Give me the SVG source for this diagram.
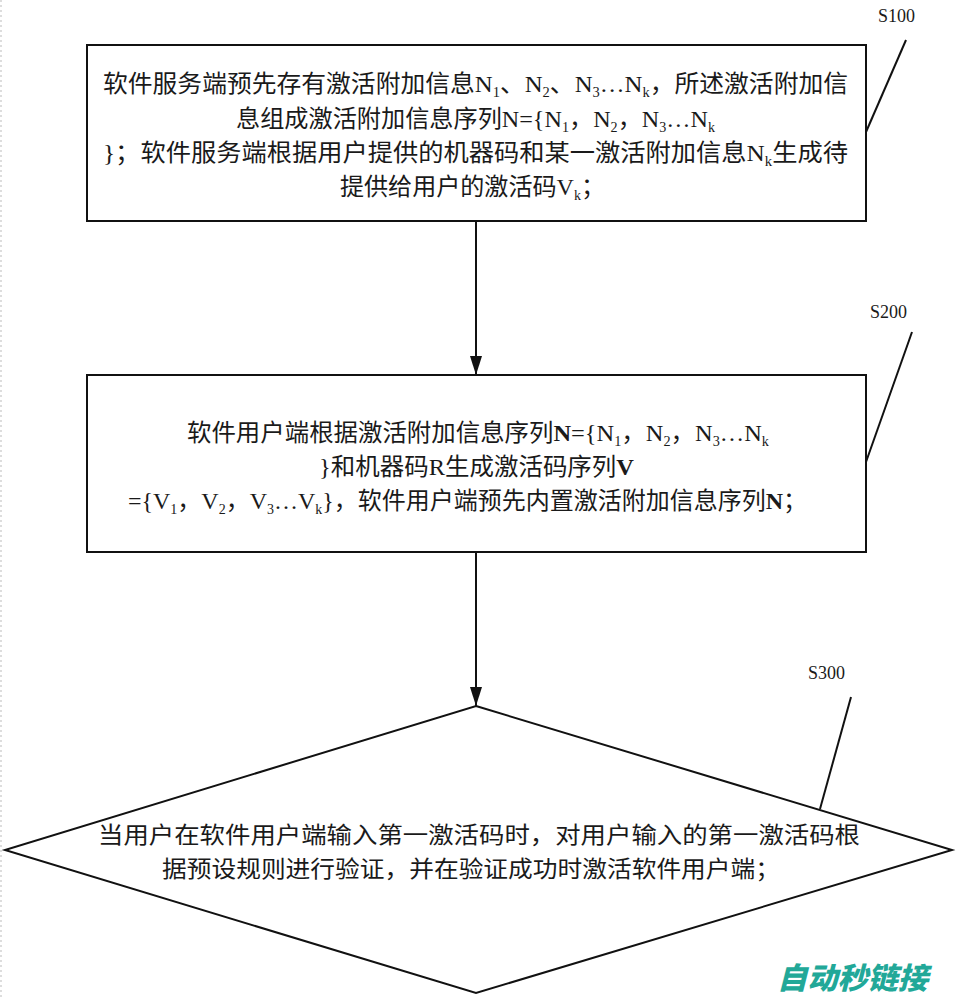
<svg xmlns="http://www.w3.org/2000/svg" width="956" height="1000" viewBox="0 0 956 1000">
<defs>
<style>
.cn{font-family:"Noto Sans CJK SC","Noto Sans CJK JP",sans-serif;font-size:24px;fill:#1a1a1a}
.dm{font-size:23px}
.lt{font-family:"Liberation Serif",serif}
.b{font-weight:bold}
.sub{font-family:"Liberation Serif",serif;font-size:14px}
.lbl{font-family:"Liberation Serif",serif;font-size:18px;fill:#1a1a1a}
.shape{fill:#fff;stroke:#111;stroke-width:2}
.conn{stroke:#111;stroke-width:2;fill:none}
.lead{stroke:#111;stroke-width:2}
.wm{font-family:"Noto Sans CJK SC",sans-serif;font-size:30px;font-weight:900;font-style:italic;fill:#22a898}
</style>
<marker id="arr" markerUnits="userSpaceOnUse" markerWidth="20" markerHeight="12" refX="19" refY="6" orient="auto">
<path d="M0,0 L19,6 L0,12 Z" fill="#111"/>
</marker>
</defs>
<rect x="0" y="0" width="956" height="1000" fill="#fff"/>
<line x1="1" y1="0" x2="1" y2="1000" stroke="#bbb" stroke-width="1" stroke-dasharray="2,3"/>

<g id="connectors">
<line class="conn" x1="476" y1="221" x2="476" y2="375" marker-end="url(#arr)"/>
<line class="conn" x1="476" y1="552" x2="476" y2="706" marker-end="url(#arr)"/>
<line class="lead" x1="906" y1="40" x2="866" y2="132"/>
<line class="lead" x1="912" y1="332" x2="866" y2="462"/>
<line class="lead" x1="851" y1="697" x2="820" y2="809"/>
</g>

<g id="S100">
<rect class="shape" x="87" y="45" width="779" height="176"/>
<text class="cn" x="103" y="92" textLength="745" lengthAdjust="spacingAndGlyphs">软件服务端预先存有激活附加信息<tspan class="lt">N</tspan><tspan class="sub" dy="5">1</tspan><tspan dy="-5">、</tspan><tspan class="lt">N</tspan><tspan class="sub" dy="5">2</tspan><tspan dy="-5">、</tspan><tspan class="lt">N</tspan><tspan class="sub" dy="5">3</tspan><tspan class="lt" dy="-5">…N</tspan><tspan class="sub" dy="5">k</tspan><tspan dy="-5">，所述激活附加信</tspan></text>
<text class="cn" x="236" y="127" textLength="479" lengthAdjust="spacingAndGlyphs">息组成激活附加信息序列<tspan class="lt">N={N</tspan><tspan class="sub" dy="5">1</tspan><tspan dy="-5">，</tspan><tspan class="lt">N</tspan><tspan class="sub" dy="5">2</tspan><tspan dy="-5">，</tspan><tspan class="lt">N</tspan><tspan class="sub" dy="5">3</tspan><tspan class="lt" dy="-5">…N</tspan><tspan class="sub" dy="5">k</tspan></text>
<text class="cn" x="103" y="161" textLength="745" lengthAdjust="spacingAndGlyphs"><tspan class="lt">}</tspan>；软件服务端根据用户提供的机器码和某一激活附加信息<tspan class="lt">N</tspan><tspan class="sub" dy="5">k</tspan><tspan dy="-5">生成待</tspan></text>
<text class="cn" x="340" y="195" textLength="265" lengthAdjust="spacingAndGlyphs">提供给用户的激活码<tspan class="lt">V</tspan><tspan class="sub" dy="5">k</tspan><tspan dy="-5">；</tspan></text>
<text class="lbl" x="878" y="22">S100</text>
</g>

<g id="S200">
<rect class="shape" x="87" y="375" width="779" height="177"/>
<text class="cn" x="187" y="441" textLength="582" lengthAdjust="spacingAndGlyphs">软件用户端根据激活附加信息序列<tspan class="lt b">N</tspan><tspan class="lt">={N</tspan><tspan class="sub" dy="5">1</tspan><tspan dy="-5">，</tspan><tspan class="lt">N</tspan><tspan class="sub" dy="5">2</tspan><tspan dy="-5">，</tspan><tspan class="lt">N</tspan><tspan class="sub" dy="5">3</tspan><tspan class="lt" dy="-5">…N</tspan><tspan class="sub" dy="5">k</tspan></text>
<text class="cn" x="319" y="475" textLength="315" lengthAdjust="spacingAndGlyphs"><tspan class="lt">}</tspan>和机器码<tspan class="lt">R</tspan>生成激活码序列<tspan class="lt b">V</tspan></text>
<text class="cn" x="128" y="509" textLength="679" lengthAdjust="spacingAndGlyphs"><tspan class="lt">={V</tspan><tspan class="sub" dy="5">1</tspan><tspan dy="-5">，</tspan><tspan class="lt">V</tspan><tspan class="sub" dy="5">2</tspan><tspan dy="-5">，</tspan><tspan class="lt">V</tspan><tspan class="sub" dy="5">3</tspan><tspan class="lt" dy="-5">…V</tspan><tspan class="sub" dy="5">k</tspan><tspan class="lt" dy="-5">}</tspan>，软件用户端预先内置激活附加信息序列<tspan class="lt b">N</tspan>；</text>
<text class="lbl" x="870" y="318">S200</text>
</g>

<g id="S300">
<polygon class="shape" points="476,706 952,850 476,993 5,850"/>
<text class="cn dm" x="98" y="843" textLength="762" lengthAdjust="spacingAndGlyphs">当用户在软件用户端输入第一激活码时，对用户输入的第一激活码根</text>
<text class="cn dm" x="162" y="877" textLength="618" lengthAdjust="spacingAndGlyphs">据预设规则进行验证，并在验证成功时激活软件用户端；</text>
<text class="lbl" x="808" y="679">S300</text>
</g>

<text class="wm" x="777" y="989" textLength="151" lengthAdjust="spacingAndGlyphs">自动秒链接</text>
</svg>
